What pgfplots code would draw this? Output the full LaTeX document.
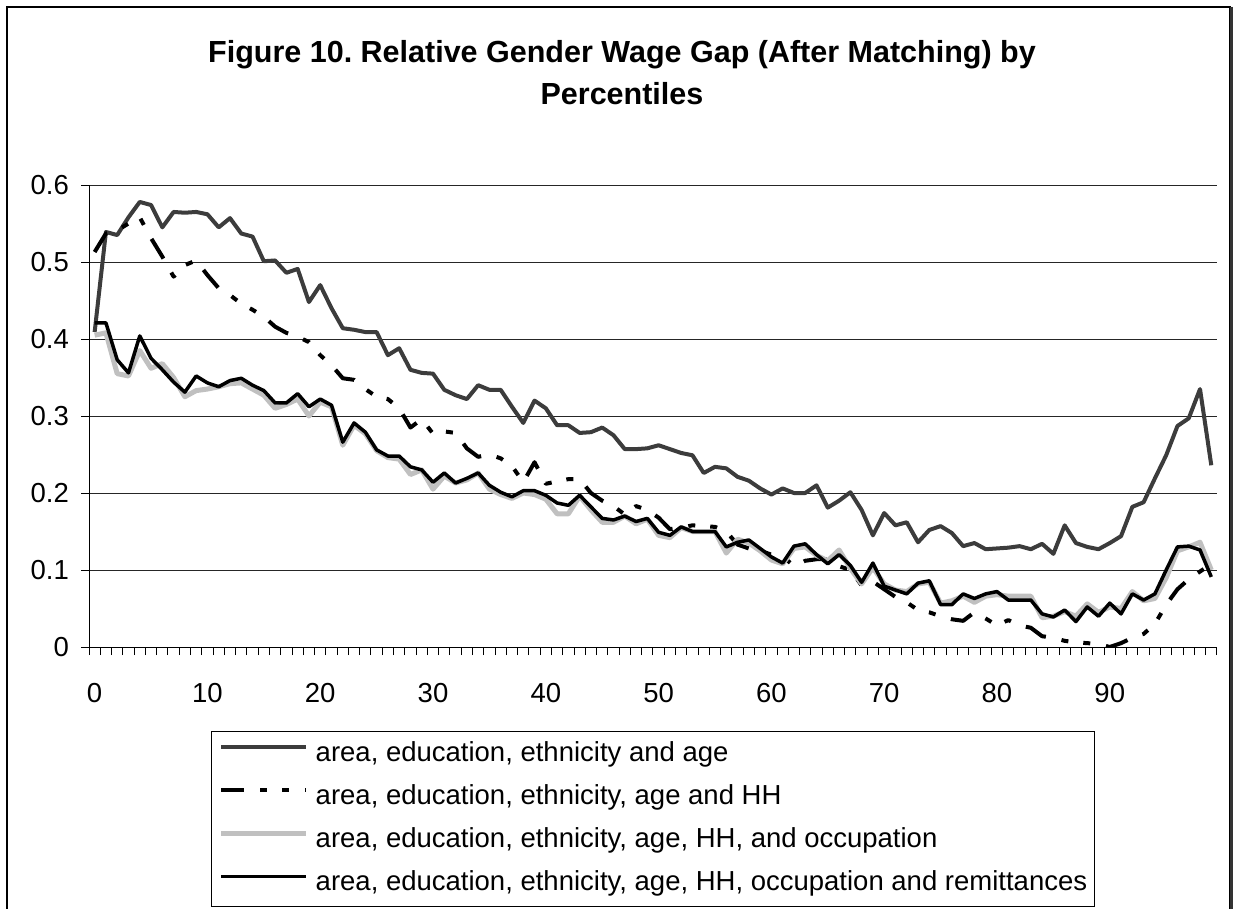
\documentclass[border=0pt]{standalone}
\usepackage{pgfplots}
\usepackage{pgfplotstable}
\pgfplotsset{compat=1.18}
\usepackage{fontspec}
\setmainfont{Liberation Sans}
\frenchspacing
\definecolor{sone}{RGB}{60,60,60}
\definecolor{sthree}{RGB}{192,192,192}
\pgfplotstableread{
x s1 s2 s3 s4
0 0.409 0.513 0.405 0.421
1 0.539 0.537 0.408 0.421
2 0.535 0.541 0.355 0.373
3 0.558 0.550 0.352 0.356
4 0.578 0.558 0.385 0.404
5 0.574 0.531 0.362 0.375
6 0.545 0.507 0.368 0.360
7 0.565 0.481 0.350 0.344
8 0.564 0.496 0.325 0.331
9 0.565 0.502 0.333 0.352
10 0.562 0.483 0.335 0.343
11 0.545 0.466 0.338 0.338
12 0.557 0.457 0.342 0.346
13 0.537 0.446 0.343 0.349
14 0.533 0.438 0.335 0.340
15 0.501 0.429 0.327 0.333
16 0.502 0.416 0.310 0.317
17 0.486 0.408 0.315 0.317
18 0.491 0.403 0.322 0.329
19 0.448 0.396 0.300 0.312
20 0.470 0.379 0.318 0.322
21 0.440 0.366 0.312 0.314
22 0.414 0.349 0.262 0.266
23 0.412 0.347 0.288 0.291
24 0.409 0.335 0.277 0.279
25 0.409 0.325 0.255 0.256
26 0.379 0.322 0.246 0.248
27 0.388 0.310 0.244 0.248
28 0.360 0.285 0.224 0.234
29 0.356 0.296 0.230 0.230
30 0.355 0.277 0.205 0.214
31 0.334 0.280 0.222 0.226
32 0.327 0.278 0.213 0.213
33 0.322 0.258 0.217 0.219
34 0.340 0.247 0.226 0.226
35 0.334 0.250 0.205 0.210
36 0.334 0.245 0.198 0.201
37 0.312 0.235 0.193 0.195
38 0.291 0.214 0.200 0.203
39 0.320 0.240 0.198 0.203
40 0.310 0.212 0.192 0.197
41 0.288 0.215 0.173 0.187
42 0.288 0.218 0.173 0.184
43 0.278 0.218 0.196 0.197
44 0.279 0.200 0.178 0.182
45 0.285 0.190 0.162 0.167
46 0.275 0.183 0.162 0.165
47 0.257 0.172 0.170 0.170
48 0.257 0.183 0.160 0.163
49 0.258 0.178 0.166 0.167
50 0.262 0.168 0.145 0.149
51 0.257 0.153 0.142 0.145
52 0.252 0.155 0.155 0.156
53 0.249 0.158 0.150 0.150
54 0.226 0.157 0.150 0.150
55 0.234 0.156 0.150 0.150
56 0.232 0.150 0.122 0.130
57 0.221 0.133 0.140 0.136
58 0.216 0.128 0.135 0.139
59 0.206 0.125 0.125 0.128
60 0.198 0.120 0.113 0.117
61 0.206 0.118 0.108 0.109
62 0.200 0.105 0.128 0.131
63 0.200 0.112 0.130 0.134
64 0.210 0.114 0.119 0.120
65 0.181 0.114 0.112 0.108
66 0.190 0.105 0.126 0.120
67 0.201 0.100 0.102 0.106
68 0.178 0.080 0.082 0.084
69 0.145 0.085 0.103 0.109
70 0.174 0.075 0.082 0.079
71 0.158 0.065 0.074 0.074
72 0.162 0.058 0.072 0.069
73 0.136 0.048 0.082 0.083
74 0.152 0.045 0.084 0.086
75 0.157 0.040 0.057 0.055
76 0.148 0.036 0.060 0.055
77 0.131 0.034 0.066 0.069
78 0.135 0.045 0.058 0.063
79 0.127 0.037 0.066 0.069
80 0.128 0.028 0.068 0.072
81 0.129 0.035 0.066 0.061
82 0.131 0.028 0.066 0.061
83 0.127 0.025 0.066 0.061
84 0.134 0.014 0.038 0.043
85 0.121 0.012 0.040 0.039
86 0.158 0.008 0.046 0.048
87 0.135 0.006 0.040 0.033
88 0.130 0.005 0.056 0.052
89 0.127 0.004 0.045 0.040
90 0.135 0.000 0.052 0.057
91 0.144 0.005 0.050 0.043
92 0.182 0.012 0.072 0.069
93 0.188 0.017 0.060 0.061
94 0.219 0.030 0.063 0.069
95 0.249 0.055 0.090 0.100
96 0.287 0.075 0.125 0.130
97 0.297 0.088 0.130 0.131
98 0.335 0.098 0.136 0.126
99 0.236 0.108 0.100 0.091
}\data
\begin{document}
\begin{tikzpicture}[x=1pt,y=1pt]
\useasboundingbox (0,0) rectangle (1235,-909);
\clip (0,0) rectangle (1235,-909);
\draw[black, line width=1.2pt] (7,-7) rectangle (1230,-930);
\draw[black!80, line width=3pt] (1231.5,-7) -- (1231.5,-930);
\node[anchor=base, font=\bfseries\fontsize{30.5}{40}\selectfont, inner sep=0pt] at (622,-63) {Figure 10. Relative Gender Wage Gap (After Matching) by};
\node[anchor=base, font=\bfseries\fontsize{30.5}{40}\selectfont, inner sep=0pt] at (622,-105) {Percentiles};
\begin{axis}[
  scale only axis,
  width=1128pt, height=462pt,
  at={(89pt,-647pt)}, anchor=south west,
  xmin=-0.5, xmax=99.5, ymin=0, ymax=0.6,
  axis x line=bottom, axis y line=left,
  axis line style={-, line width=1pt, black},
  xtick={0,10,...,90},
  minor xtick={-0.5,0.5,...,99.5},
  ytick={0,0.1,...,0.6},
  tick align=outside,
  major x tick style={draw=none},
  minor x tick style={line width=1pt, black},
  major y tick style={line width=1pt, black},
  major tick length=8pt, minor tick length=8pt,
  ymajorgrids,
  major grid style={line width=1pt, black!85},
  /pgf/number format/assume math mode=true,
  tick label style={font=\fontsize{27.5}{33}\selectfont},
  yticklabel style={/pgf/number format/fixed, inner sep=0pt, xshift=-12pt},
  xticklabel style={inner sep=0pt, yshift=-28pt},
  legend cell align=left,
  legend style={at={(0.5,-0.1818)}, anchor=north, draw=black, line width=1pt,
    font=\fontsize{27.5}{33}\selectfont, inner xsep=7pt, inner ysep=10pt,
    nodes={inner sep=0pt, text height=20pt, text depth=6pt},
    row sep=17pt, column sep=7pt},
  legend image code/.code={\draw[#1] (0pt,7pt) -- (85pt,7pt);},
  every axis plot/.append style={line join=round},
]
\addplot[sone, line width=4pt] table[x=x,y=s1] {\data};
\addlegendentry{area, education, ethnicity and age}
\addplot[black, line width=4pt, dash pattern=on 23pt off 16pt on 7pt off 15pt on 7pt off 16pt] table[x=x,y=s2] {\data};
\addlegendentry{area, education, ethnicity, age and HH}
\addplot[sthree, line width=5pt] table[x=x,y=s3] {\data};
\addlegendentry{area, education, ethnicity, age, HH, and occupation}
\addplot[black, line width=3.5pt] table[x=x,y=s4] {\data};
\addlegendentry{area, education, ethnicity, age, HH, occupation and remittances}
\end{axis}
\end{tikzpicture}
\end{document}
